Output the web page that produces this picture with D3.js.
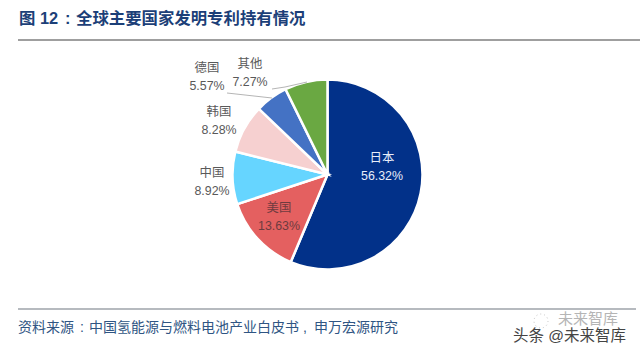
<!DOCTYPE html>
<html>
<head>
<meta charset="utf-8">
<script src="https://cdn.jsdelivr.net/npm/d3@7"></script>
<style>
  html, body { margin: 0; padding: 0; background: #fff; }
  svg { display: block; }
  text { font-family: "Liberation Sans", "Noto Sans CJK SC", sans-serif; }
</style>
</head>
<body>
<script>
const countries = ["日本", "美国", "中国", "韩国", "德国", "其他"];
const shares = [56.32, 13.63, 8.92, 8.28, 5.57, 7.27];
const sliceColors = ["#023189", "#e46060", "#66d5ff", "#f6d0d0", "#4472c4", "#6aa842"];
const labelColors = ["#e8eefa", "#6e3b3f", "#595959", "#595959", "#595959", "#595959"];
// label centres
const labelX = [382, 279, 212, 219, 207, 250];
const labelY = [165.5, 216, 180.5, 119.5, 76, 71.5];

const width = 640;
const height = 352;
const cx = 327.5;
const cy = 174.5;
const radius = 95;

const svg = d3.select("body").append("svg")
  .attr("width", width)
  .attr("height", height);

// header and footer
const title = svg.append("text")
  .attr("y", 24)
  .attr("font-size", 16.4).attr("font-weight", 700)
  .attr("fill", "#1c3f78");
title.append("tspan").attr("x", 19).text("图 12");
title.append("tspan").attr("x", 65).text(":");
title.append("tspan").attr("x", 76).text("全球主要国家发明专利持有情况");

svg.append("line")
  .attr("x1", 18).attr("x2", 640).attr("y1", 40).attr("y2", 40)
  .attr("stroke", "#7f7f7f").attr("stroke-width", 1.5);

svg.append("line")
  .attr("x1", 18).attr("x2", 636).attr("y1", 309).attr("y2", 309)
  .attr("stroke", "#6f7780").attr("stroke-width", 1.2);

const source = svg.append("text")
  .attr("y", 332)
  .attr("font-size", 14)
  .attr("fill", "#2f5583");
source.append("tspan").attr("x", 18).text("资料来源");
source.append("tspan").attr("x", 80).text(":");
source.append("tspan").attr("x", 89).text("中国氢能源与燃料电池产业白皮书");
source.append("tspan").attr("x", 303).text(",");
source.append("tspan").attr("x", 314).text("申万宏源研究");

// pie
const pie = d3.pie().sort(null).value((d) => d);
const arc = d3.arc().innerRadius(0).outerRadius(radius);

const pieGroup = svg.append("g")
  .attr("transform", `translate(${cx} ${cy})`);

pieGroup.selectAll("path")
  .data(pie(shares))
  .enter()
  .append("path")
  .attr("d", arc)
  .attr("fill", (d, i) => sliceColors[i])
  .attr("stroke", "#fff")
  .attr("stroke-width", 2.5);

// leader lines for the two small slices
const leaderData = [
  [[227, 93], [272, 98]],
  [[272, 89], [285, 87], [307, 82]]
];
svg.selectAll(".leader")
  .data(leaderData)
  .enter()
  .append("path")
  .attr("class", "leader")
  .attr("d", d3.line())
  .attr("fill", "none")
  .attr("stroke", "#b5b5b5")
  .attr("stroke-width", 1);

// slice labels
const labels = svg.selectAll(".slice-label")
  .data(countries)
  .enter()
  .append("text")
  .attr("class", "slice-label")
  .attr("text-anchor", "middle")
  .attr("font-size", 12.4)
  .attr("fill", (d, i) => labelColors[i]);

labels.append("tspan")
  .attr("x", (d, i) => labelX[i])
  .attr("y", (d, i) => labelY[i] - 4)
  .text((d) => d);

labels.append("tspan")
  .attr("x", (d, i) => labelX[i])
  .attr("y", (d, i) => labelY[i] + 14)
  .text((d, i) => shares[i].toFixed(2) + "%");

// watermark
svg.append("circle")
  .attr("cx", 541).attr("cy", 321).attr("r", 7)
  .attr("fill", "none")
  .attr("stroke", "#c4c4c4")
  .attr("stroke-dasharray", "1 3");
svg.append("text")
  .attr("x", 513).attr("y", 341)
  .attr("font-size", 15.5)
  .attr("fill", "#444")
  .text("头条 @未来智库");
svg.append("text")
  .attr("x", 558).attr("y", 324)
  .attr("font-size", 15)
  .attr("fill", "#b5b5b5")
  .text("未来智库");
</script>
</body>
</html>
